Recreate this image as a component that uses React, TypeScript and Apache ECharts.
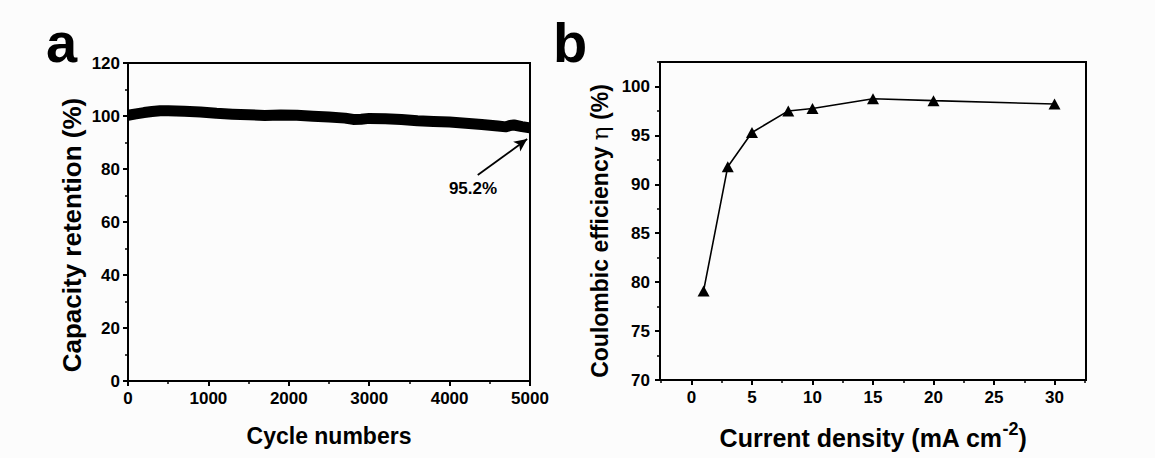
import React, { useEffect, useRef } from "react";
import * as echarts from "echarts";

// Panel a: capacity retention vs cycle number
const cycleNumbers = [0, 100, 200, 300, 400, 500, 700, 900, 1100, 1300, 1500, 1700, 1900, 2100, 2300, 2500, 2700, 2800, 2900, 3000, 3200, 3400, 3600, 3800, 4000, 4200, 4400, 4600, 4700, 4750, 4800, 4900, 5000];
const capacityRetention = [100.3, 100.8, 101.3, 101.7, 102.0, 102.0, 101.8, 101.5, 101.0, 100.7, 100.5, 100.2, 100.4, 100.3, 99.9, 99.6, 99.2, 98.7, 98.8, 99.1, 99.0, 98.7, 98.2, 97.9, 97.7, 97.3, 96.8, 96.2, 95.9, 96.4, 96.6, 96.0, 95.5];
const annotationText = "95.2%";
const arrowFrom = [4350, 77.7];
const arrowTo = [4965, 91.3];

// Panel b: coulombic efficiency vs current density
const currentDensity = [1, 3, 5, 8, 10, 15, 20, 30];
const coulombicEfficiency = [79.1, 91.8, 95.3, 97.5, 97.75, 98.75, 98.55, 98.2];
const bXLabels = [0, 5, 10, 15, 20, 25, 30];
const bXMinor = [-2.5, 2.5, 7.5, 12.5, 17.5, 22.5, 27.5, 32.5];
const bYLabels = [70, 75, 80, 85, 90, 95, 100];
const bYMinor = [72.5, 77.5, 82.5, 87.5, 92.5, 97.5, 102.5];

const FONT = "Liberation Sans";
const BLACK = "#000";

const labelStyle = { color: BLACK, fontSize: 17, fontWeight: "bold" as const, fontFamily: FONT };
const nameStyle = { color: BLACK, fontSize: 23, fontWeight: "bold" as const, fontFamily: FONT };
const lineStyle = { color: BLACK, width: 2 };

export default function App() {
  const ref = useRef<HTMLDivElement>(null);
  useEffect(() => {
    if (!ref.current) return;
    const chart = echarts.init(ref.current, null, { renderer: "svg" });
    const option: any = {
      animation: false,
      backgroundColor: "#fcfcfc",
      grid: [
        { left: 128, top: 63, width: 402, height: 318, show: true, borderColor: BLACK, borderWidth: 2 },
        { left: 660, top: 62, width: 426, height: 318, show: true, borderColor: BLACK, borderWidth: 2 },
      ],
      xAxis: [
        {
          gridIndex: 0, type: "value", min: 0, max: 5000, interval: 1000,
          axisLine: { show: true, onZero: false, lineStyle },
          axisTick: { show: true, length: 5, lineStyle },
          minorTick: { show: true, splitNumber: 2, length: 3, lineStyle: { color: BLACK, width: 1.5 } },
          axisLabel: { ...labelStyle, margin: 9, formatter: (v: number) => String(v) },
          splitLine: { show: false },
          name: "Cycle numbers", nameLocation: "middle", nameGap: 43, nameTextStyle: nameStyle,
        },
        {
          gridIndex: 1, type: "value", min: -2.6, max: 32.6,
          axisLine: { show: true, onZero: false, lineStyle },
          axisTick: { show: true, length: 5, lineStyle, customValues: bXLabels },
          axisLabel: { ...labelStyle, margin: 9, customValues: bXLabels },
          splitLine: { show: false },
          name: "{n|Current density (mA cm}{s|-2}{n|)}", nameLocation: "middle", nameGap: 40,
          nameTextStyle: {
            rich: {
              n: { ...nameStyle, fontSize: 25, lineHeight: 30, verticalAlign: "bottom" },
              s: { color: BLACK, fontSize: 18, fontWeight: "bold", fontFamily: FONT, lineHeight: 30, verticalAlign: "top" },
            },
          },
        },
        {
          gridIndex: 1, type: "value", min: -2.6, max: 32.6, position: "bottom",
          axisLine: { show: false, onZero: false },
          axisTick: { show: true, length: 3, lineStyle: { color: BLACK, width: 1.5 }, customValues: bXMinor },
          axisLabel: { show: false },
          splitLine: { show: false },
        },
      ],
      yAxis: [
        {
          gridIndex: 0, type: "value", min: 0, max: 120, interval: 20,
          axisLine: { show: true, onZero: false, lineStyle },
          axisTick: { show: true, length: 5, lineStyle },
          minorTick: { show: true, splitNumber: 2, length: 3, lineStyle: { color: BLACK, width: 1.5 } },
          axisLabel: { ...labelStyle, margin: 8 },
          splitLine: { show: false },
        },
        {
          gridIndex: 1, type: "value", min: 70, max: 102.5,
          axisLine: { show: true, onZero: false, lineStyle },
          axisTick: { show: true, length: 5, lineStyle, customValues: bYLabels },
          axisLabel: { ...labelStyle, margin: 10, customValues: bYLabels },
          splitLine: { show: false },
        },
        {
          gridIndex: 1, type: "value", min: 70, max: 102.5, position: "left",
          axisLine: { show: false, onZero: false },
          axisTick: { show: true, length: 3, lineStyle: { color: BLACK, width: 1.5 }, customValues: bYMinor },
          axisLabel: { show: false },
          splitLine: { show: false },
        },
      ],
      series: [
        {
          type: "line", xAxisIndex: 0, yAxisIndex: 0,
          data: cycleNumbers.map((c, i) => [c, capacityRetention[i]]),
          showSymbol: false, symbol: "none",
          lineStyle: { color: BLACK, width: 11, join: "round", cap: "butt" },
          markLine: {
            silent: true, symbol: ["none", "arrow"], symbolSize: [9, 13],
            lineStyle: { color: BLACK, width: 1.8, type: "solid" },
            label: { show: false },
            data: [[{ coord: arrowFrom }, { coord: arrowTo }]],
          },
        },
        {
          type: "line", xAxisIndex: 1, yAxisIndex: 1,
          data: currentDensity.map((c, i) => [c, coulombicEfficiency[i]]),
          symbol: "triangle", symbolSize: [12, 11],
          itemStyle: { color: BLACK },
          lineStyle: { color: BLACK, width: 1.6 },
        },
      ],
      graphic: [
        { type: "text", x: 46, y: 42, style: { text: "a", font: `bold 56px "${FONT}"`, fill: BLACK, verticalAlign: "middle" } },
        { type: "text", x: 553, y: 42, style: { text: "b", font: `bold 56px "${FONT}"`, fill: BLACK, verticalAlign: "middle" } },
        { type: "text", x: 473, y: 188, style: { text: annotationText, font: `bold 17px "${FONT}"`, fill: BLACK, align: "center", verticalAlign: "middle" } },
        {
          type: "text", x: 72, y: 235, rotation: Math.PI / 2,
          style: { text: "Capacity retention (%)", font: `bold 26px "${FONT}"`, fill: BLACK, align: "center", verticalAlign: "middle" },
        },
        {
          type: "text", x: 600, y: 231, rotation: Math.PI / 2,
          style: {
            text: "{n|Coulombic efficiency }{g|η}{n| (%)}", fill: BLACK, align: "center", verticalAlign: "middle",
            rich: {
              n: { fontSize: 23, fontWeight: "bold", fontFamily: FONT, fill: BLACK },
              g: { fontSize: 23, fontWeight: "normal", fontFamily: "DejaVu Serif", fill: BLACK },
            },
          },
        },
      ],
    };
    chart.setOption(option);
    return () => chart.dispose();
  }, []);
  return <div ref={ref} style={{ position: "fixed", left: 0, top: 0, width: 1155, height: 458 }} />;
}
